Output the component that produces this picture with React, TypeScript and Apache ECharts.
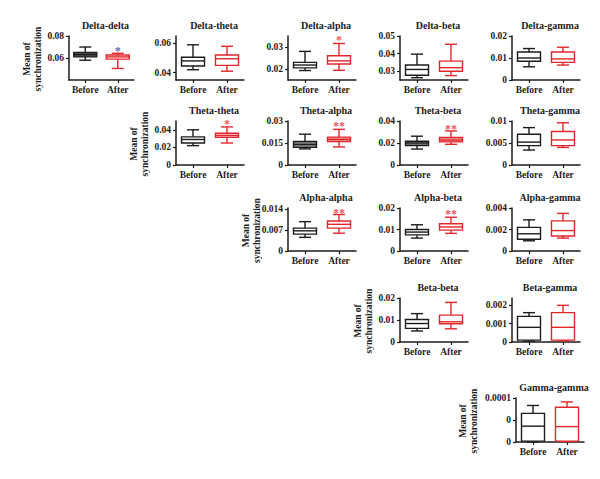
import React, { useEffect, useRef } from 'react';
import * as echarts from 'echarts';

const categories = ['Before', 'After'];

const pairNames = [
  'Delta-delta', 'Delta-theta', 'Delta-alpha', 'Delta-beta', 'Delta-gamma',
  'Theta-theta', 'Theta-alpha', 'Theta-beta', 'Theta-gamma',
  'Alpha-alpha', 'Alpha-beta', 'Alpha-gamma',
  'Beta-beta', 'Beta-gamma',
  'Gamma-gamma',
];

// [min, Q1, median, Q3, max]
const beforeStats = [
  [0.058, 0.061, 0.063, 0.065, 0.07],
  [0.042, 0.0445, 0.048, 0.0505, 0.059],
  [0.0193, 0.0205, 0.0218, 0.023, 0.028],
  [0.0263, 0.0277, 0.031, 0.0335, 0.0397],
  [0.006, 0.0085, 0.01, 0.0127, 0.0143],
  [0.022, 0.025, 0.029, 0.032, 0.04],
  [0.011, 0.012, 0.014, 0.016, 0.021],
  [0.0145, 0.0177, 0.02, 0.0216, 0.0262],
  [0.0034, 0.0044, 0.0052, 0.007, 0.0085],
  [0.0046, 0.0057, 0.0068, 0.0077, 0.0099],
  [0.006, 0.0075, 0.0088, 0.01, 0.0122],
  [0.00095, 0.0011, 0.0016, 0.0022, 0.0029],
  [0.005, 0.0062, 0.0084, 0.0102, 0.0129],
  [0.00005, 0.0001, 0.0008, 0.0014, 0.0016],
  [0.0, 0.000002, 0.000036, 0.000065, 0.000083],
];

const afterStats = [
  [0.0505, 0.059, 0.061, 0.0627, 0.0643],
  [0.041, 0.045, 0.0495, 0.052, 0.058],
  [0.0194, 0.0223, 0.0237, 0.026, 0.0316],
  [0.0275, 0.03, 0.032, 0.0357, 0.0453],
  [0.0068, 0.008, 0.0096, 0.0127, 0.0149],
  [0.025, 0.0315, 0.0337, 0.036, 0.0433],
  [0.0123, 0.016, 0.0175, 0.019, 0.0243],
  [0.0188, 0.021, 0.0227, 0.025, 0.031],
  [0.004, 0.0044, 0.0057, 0.0076, 0.0096],
  [0.006, 0.0077, 0.009, 0.0101, 0.0123],
  [0.0082, 0.0097, 0.0112, 0.0127, 0.0157],
  [0.0012, 0.0014, 0.0019, 0.0028, 0.0035],
  [0.006, 0.0083, 0.0092, 0.0122, 0.018],
  [0.00007, 0.0001, 0.0008, 0.0016, 0.002],
  [0.000001, 0.000002, 0.000035, 0.000079, 0.000091],
];

const axisMin = [0.04, 0.035, 0.015, 0.025, 0, 0, 0, 0, 0, 0, 0, 0, 0, 0, 0];
const axisMax = [0.08, 0.065, 0.035, 0.05, 0.02, 0.05, 0.03, 0.04, 0.01, 0.0145, 0.02, 0.004, 0.02, 0.0024, 0.0001];

const tickValues = [
  [0.06, 0.08],
  [0.04, 0.06],
  [0.02, 0.03],
  [0.03, 0.04, 0.05],
  [0, 0.01, 0.02],
  [0, 0.02, 0.04],
  [0, 0.015, 0.03],
  [0, 0.02, 0.04],
  [0, 0.005, 0.01],
  [0, 0.007, 0.014],
  [0, 0.01, 0.02],
  [0, 0.002, 0.004],
  [0, 0.01, 0.02],
  [0, 0.001, 0.002],
  [0, 0.00005, 0.0001],
];

const tickTexts = [
  ['0.06', '0.08'],
  ['0.04', '0.06'],
  ['0.02', '0.03'],
  ['0.03', '0.04', '0.05'],
  ['0', '0.01', '0.02'],
  ['0', '0.02', '0.04'],
  ['0', '0.015', '0.03'],
  ['0', '0.02', '0.04'],
  ['0', '0.005', '0.01'],
  ['0', '0.007', '0.014'],
  ['0', '0.01', '0.02'],
  ['0', '0.002', '0.004'],
  ['0', '0.01', '0.02'],
  ['0', '0.001', '0.002'],
  ['0', '0', '0.0001'],
];

const sigMarks = ['*', '', '*', '', '', '*', '**', '**', '', '**', '**', '', '', '', ''];
const sigValues = [0.0694, null, 0.0345, null, null, 0.0495, 0.0284, 0.0355, null, 0.0139, 0.0187, null, null, null, null];

const yAxisTitle = 'Mean of\nsynchronization';

// ---- layout & style (not data) ----
const panelRow = [0, 0, 0, 0, 0, 1, 1, 1, 1, 2, 2, 2, 3, 3, 4];
const panelCol = [0, 1, 2, 3, 4, 1, 2, 3, 4, 2, 3, 4, 3, 4, 4];
const colLeft = [69, 176, 288, 400, 512];
const rowTop = [36, 121, 208, 298, 398];
const rowHeight = [44, 44, 43, 44, 44];
const panelWidth = [65, 68, 68, 68, 68];
const lastPanelShift = 4;
const filledBefore = [0, 6, 7];
const filledAfter = [6, 7];

const FONT = '"Liberation Serif", "Times New Roman", serif';
const BLACK = '#1c1c1c';
const RED = '#e3262b';
const BLUE = '#2b3aa0';

function makeRender(panel: number) {
  return (params: any, api: any) => {
    const idx = params.dataIndex;
    const cat = api.value(0);
    const pMin = api.coord([cat, api.value(1)]);
    const pQ1 = api.coord([cat, api.value(2)]);
    const pMed = api.coord([cat, api.value(3)]);
    const pQ3 = api.coord([cat, api.value(4)]);
    const pMax = api.coord([cat, api.value(5)]);
    const cx = pMin[0];
    const stroke = idx === 0 ? BLACK : RED;
    let fill = '#ffffff';
    if (idx === 0 && filledBefore.includes(panel)) fill = panel === 0 ? '#5a5a5a' : '#8a8a8a';
    if (idx === 1 && filledAfter.includes(panel)) fill = '#f3a9a7';
    const bw = 23;
    const cw = 12;
    const lw = 1.4;
    const ls = { stroke, lineWidth: lw };
    return {
      type: 'group',
      children: [
        { type: 'line', shape: { x1: cx, y1: pMax[1], x2: cx, y2: pQ3[1] }, style: ls },
        { type: 'line', shape: { x1: cx, y1: pQ1[1], x2: cx, y2: pMin[1] }, style: ls },
        { type: 'line', shape: { x1: cx - cw / 2, y1: pMax[1], x2: cx + cw / 2, y2: pMax[1] }, style: ls },
        { type: 'line', shape: { x1: cx - cw / 2, y1: pMin[1], x2: cx + cw / 2, y2: pMin[1] }, style: ls },
        {
          type: 'rect',
          shape: { x: cx - bw / 2, y: pQ3[1], width: bw, height: pQ1[1] - pQ3[1] },
          style: { fill, stroke, lineWidth: lw },
        },
        { type: 'line', shape: { x1: cx - bw / 2, y1: pMed[1], x2: cx + bw / 2, y2: pMed[1] }, style: ls },
      ],
    };
  };
}

function buildOption() {
  const grid: any[] = [];
  const xAxis: any[] = [];
  const yAxis: any[] = [];
  const series: any[] = [];
  const graphic: any[] = [];

  pairNames.forEach((name, i) => {
    const r = panelRow[i];
    const c = panelCol[i];
    const left = colLeft[c] + (r === 4 ? lastPanelShift : 0);
    const top = rowTop[r];
    const w = panelWidth[c];
    const h = rowHeight[r];
    const firstInRow = c === r;
    grid.push({ left, top, width: w, height: h, containLabel: false });
    xAxis.push({
      type: 'category',
      gridIndex: i,
      data: categories,
      axisLine: { show: true, lineStyle: { color: BLACK, width: 1.5 } },
      axisTick: { show: true, alignWithLabel: true, length: 3, lineStyle: { color: BLACK, width: 1.2 } },
      axisLabel: { interval: 0, fontFamily: FONT, fontSize: 9.5, fontWeight: 'bold', color: BLACK, margin: 5 },
      splitLine: { show: false },
    });
    const tv = tickValues[i];
    const tt = tickTexts[i];
    yAxis.push({
      type: 'value',
      gridIndex: i,
      min: axisMin[i],
      max: axisMax[i],
      axisLine: { show: true, lineStyle: { color: BLACK, width: 1.5 } },
      axisTick: { show: true, length: 3, customValues: tv, lineStyle: { color: BLACK, width: 1.2 } },
      axisLabel: {
        customValues: tv,
        formatter: (v: number) => {
          const k = tv.findIndex((t) => Math.abs(t - v) < 1e-12);
          return k >= 0 ? tt[k] : '';
        },
        fontFamily: FONT,
        fontSize: 9.5,
        fontWeight: 'bold',
        color: BLACK,
        margin: 5,
      },
      splitLine: { show: false },
    });
    series.push({
      type: 'custom',
      xAxisIndex: i,
      yAxisIndex: i,
      renderItem: makeRender(i),
      encode: { x: 0, y: [1, 2, 3, 4, 5] },
      clip: false,
      silent: true,
      data: [
        [0, ...beforeStats[i]],
        [1, ...afterStats[i]],
      ],
    });
    if (sigMarks[i]) {
      series.push({
        type: 'scatter',
        xAxisIndex: i,
        yAxisIndex: i,
        symbolSize: 1,
        itemStyle: { color: 'transparent' },
        silent: true,
        data: [[1, sigValues[i]]],
        label: {
          show: true,
          position: 'inside',
          formatter: sigMarks[i],
          color: i === 0 ? BLUE : RED,
          fontFamily: FONT,
          fontSize: 12,
          fontWeight: 'bold',
          offset: [0, 3],
        },
      });
    }
    graphic.push({
      type: 'text',
      x: left + w / 2 + 4,
      y: top - 11,
      style: {
        text: name,
        textAlign: 'center',
        textVerticalAlign: 'middle',
        font: `bold 10px ${FONT}`,
        fill: BLACK,
      },
    });
    if (firstInRow) {
      graphic.push({
        type: 'text',
        x: left - 37 - (r === 4 ? 11 : 0),
        y: top + h / 2 + 1,
        rotation: Math.PI / 2,
        style: {
          text: yAxisTitle,
          textAlign: 'center',
          textVerticalAlign: 'middle',
          font: `bold 9.5px ${FONT}`,
          lineHeight: 11,
          fill: BLACK,
        },
      });
    }
  });

  return {
    animation: false,
    backgroundColor: '#ffffff',
    grid,
    xAxis,
    yAxis,
    series,
    graphic,
  };
}

export default function App() {
  const ref = useRef<HTMLDivElement>(null);
  useEffect(() => {
    if (!ref.current) return;
    const chart = echarts.init(ref.current, undefined, { renderer: 'svg' });
    chart.setOption(buildOption() as any);
    return () => chart.dispose();
  }, []);
  return (
    <div
      ref={ref}
      style={{ position: 'fixed', left: 0, top: 0, width: 600, height: 479, background: '#ffffff' }}
    />
  );
}
